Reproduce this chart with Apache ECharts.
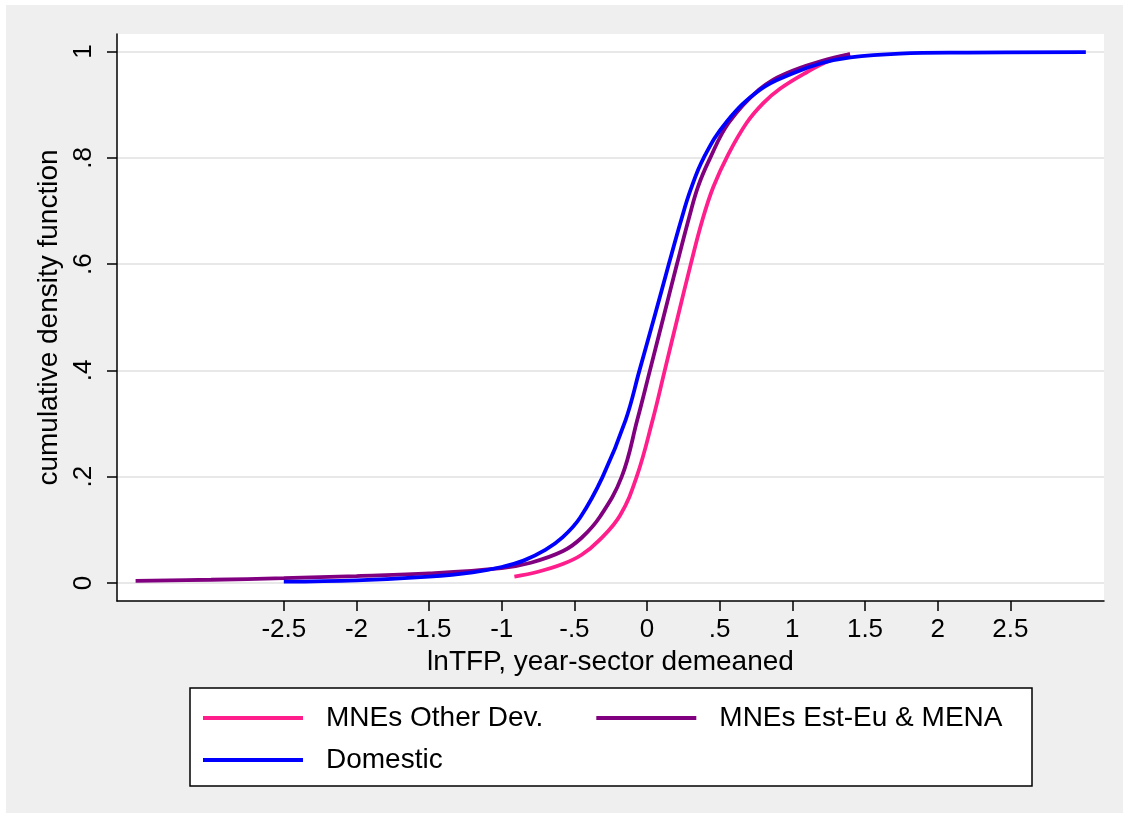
<!DOCTYPE html>
<html>
<head>
<meta charset="utf-8">
<script src="https://cdn.jsdelivr.net/npm/echarts@6/dist/echarts.min.js"></script>
<style>
  html, body { margin: 0; padding: 0; background: #fff; }
  #bg { position: absolute; left: 6px; top: 5px; width: 1117px; height: 808px; background: #efefef; }
  #main { position: absolute; left: 0; top: 0; width: 1129px; height: 819px; }
</style>
</head>
<body>
<div id="bg"></div>
<div id="main"></div>
<script>
// 坐标轴刻度
var xTicks = [-2.5, -2, -1.5, -1, -0.5, 0, 0.5, 1, 1.5, 2, 2.5];
var xTickLabels = ['-2.5', '-2', '-1.5', '-1', '-.5', '0', '.5', '1', '1.5', '2', '2.5'];
var yTicks = [0, 0.2, 0.4, 0.6, 0.8, 1];
var yTickLabels = ['0', '.2', '.4', '.6', '.8', '1'];

// 累积分布 [lnTFP, F]
var otherDev = [
    [-0.913, 0.012], [-0.75, 0.021], [-0.576, 0.036], [-0.45, 0.053], [-0.33, 0.08],
    [-0.186, 0.127], [-0.071, 0.2], [0.039, 0.307], [0.122, 0.4], [0.211, 0.5],
    [0.301, 0.6], [0.38, 0.682], [0.456, 0.745], [0.56, 0.807], [0.686, 0.866],
    [0.8, 0.903], [0.915, 0.93], [1.099, 0.961], [1.25, 0.982], [1.397, 0.995]
];
var estEuMena = [
    [-3.52, 0.004], [-3.0, 0.006], [-2.5, 0.009], [-2.0, 0.013], [-1.5, 0.018],
    [-1.0, 0.028], [-0.8, 0.038], [-0.578, 0.06], [-0.45, 0.085], [-0.323, 0.125],
    [-0.174, 0.2], [-0.067, 0.307], [0.02, 0.4], [0.113, 0.5], [0.206, 0.6],
    [0.29, 0.688], [0.35, 0.745], [0.43, 0.797], [0.56, 0.865], [0.77, 0.928],
    [0.96, 0.959], [1.2, 0.982], [1.397, 0.995]
];
var domestic = [
    [-2.5, 0.0025], [-2.0, 0.005], [-1.5, 0.012], [-1.2, 0.02], [-1.0, 0.03],
    [-0.85, 0.042], [-0.7, 0.062], [-0.58, 0.086], [-0.46, 0.123], [-0.305, 0.2],
    [-0.147, 0.307], [-0.052, 0.4], [0.05, 0.5], [0.15, 0.6], [0.235, 0.683],
    [0.3, 0.74], [0.39, 0.8], [0.548, 0.868], [0.778, 0.928], [1.005, 0.959],
    [1.2, 0.978], [1.4, 0.989], [1.74, 0.996], [2.2, 0.998], [3.02, 0.999]
];

var names = ['MNEs Other Dev.', 'MNEs Est-Eu & MENA', 'Domestic'];
var colors = ['#ff1e8c', '#800080', '#0000ff'];
var font = "'Liberation Sans', Arial, sans-serif";

var myChart = echarts.init(document.getElementById('main'));

function lineSeries(i, data) {
    return {
        name: names[i],
        type: 'line',
        data: data,
        showSymbol: false,
        smooth: 0.4,
        itemStyle: { color: colors[i] },
        lineStyle: { color: colors[i], width: 3.8 }
    };
}

var legendText = {
    fontFamily: font,
    fontSize: 28,
    color: '#000',
    lineHeight: 30,
    padding: [0, 0, 0, 18]
};

var option = {
    backgroundColor: 'transparent',
    animation: false,
    grid: {
        left: 117, top: 34, right: 25, bottom: 218,
        show: true, backgroundColor: '#fff', borderWidth: 0
    },
    // 图例外框
    graphic: [{
        type: 'rect',
        shape: { x: 190, y: 688, width: 842, height: 98 },
        style: { fill: '#fff', stroke: '#000', lineWidth: 1.5 },
        z: 0
    }],
    legend: [{
        data: [names[0], names[1]],
        left: 203, top: 703,
        padding: 0,
        itemGap: 53,
        icon: 'rect',
        itemWidth: 100, itemHeight: 4,
        textStyle: legendText,
        selectedMode: false
    }, {
        data: [names[2]],
        left: 203, top: 745,
        padding: 0,
        icon: 'rect',
        itemWidth: 100, itemHeight: 4,
        textStyle: legendText,
        selectedMode: false
    }],
    xAxis: {
        type: 'value',
        min: -3.648, max: 3.145,
        name: 'lnTFP, year-sector demeaned',
        nameLocation: 'middle',
        nameGap: 43,
        nameTextStyle: { fontFamily: font, fontSize: 28, color: '#000' },
        axisLine: { show: true, onZero: false, lineStyle: { color: '#000', width: 1.5 } },
        axisTick: { show: true, length: 10, customValues: xTicks, lineStyle: { color: '#000', width: 1.5 } },
        axisLabel: {
            customValues: xTicks,
            margin: 16,
            fontFamily: font, fontSize: 26, color: '#000',
            formatter: function (v) { return xTickLabels[xTicks.indexOf(v)]; }
        },
        splitLine: { show: false }
    },
    yAxis: {
        type: 'value',
        min: -0.034, max: 1.033,
        name: 'cumulative density function',
        nameLocation: 'middle',
        nameGap: 52,
        nameTextStyle: { fontFamily: font, fontSize: 28, color: '#000' },
        axisLine: { show: true, onZero: false, lineStyle: { color: '#000', width: 1.5 } },
        axisTick: { show: true, length: 10, customValues: yTicks, lineStyle: { color: '#000', width: 1.5 } },
        axisLabel: {
            customValues: yTicks,
            rotate: 90,
            margin: 20,
            fontFamily: font, fontSize: 26, color: '#000',
            formatter: function (v) { return yTickLabels[yTicks.indexOf(v)]; }
        },
        splitLine: { show: true, lineStyle: { color: '#e8e8e8', width: 2 } }
    },
    series: [
        lineSeries(0, otherDev),
        lineSeries(1, estEuMena),
        lineSeries(2, domestic)
    ]
};
myChart.setOption(option);
</script>
</body>
</html>
